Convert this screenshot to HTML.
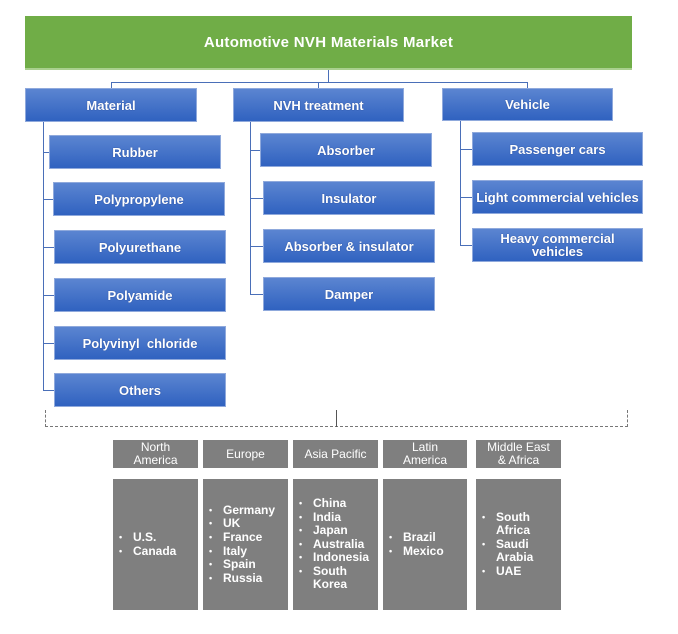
<!DOCTYPE html><html><head><style>
body{margin:0;width:678px;height:634px;background:#fff;position:relative;font-family:"Liberation Sans",sans-serif;overflow:hidden}
div{position:absolute;box-sizing:border-box}
.b{background:linear-gradient(#5b85d1,#3062c0);border:1px solid #8fa9dc;color:#fff;font-weight:bold;font-size:13px;display:flex;align-items:center;justify-content:center;text-align:center;line-height:13px;text-shadow:0 0 1px #203c80}
.l{background:#4a6fb8}
.g{background:#7f7f7f;color:#fff;font-size:12px;display:flex;align-items:center;justify-content:center;text-align:center;line-height:13px}
.c{background:#7f7f7f;color:#fff;font-size:12px;font-weight:bold;display:flex;align-items:center;line-height:13.6px;padding-left:6px}
ul{margin:0;padding:0 0 0 14px;list-style:none}
li{position:relative}
li:before{content:"•";font-size:9px;position:absolute;left:-14px;top:0}
</style></head><body>
<div style="left:25px;top:16px;width:607px;height:54px;background:#70ad47;border-bottom:2px solid #a9d08e;color:#fff;font-weight:bold;font-size:15px;display:flex;align-items:center;justify-content:center;letter-spacing:.3px">Automotive NVH Materials Market</div>
<div class="l" style="left:328px;top:70px;width:1px;height:12px"></div>
<div class="l" style="left:111px;top:82px;width:417px;height:1px"></div>
<div class="l" style="left:111px;top:82px;width:1px;height:6px"></div>
<div class="l" style="left:318px;top:82px;width:1px;height:6px"></div>
<div class="l" style="left:527px;top:82px;width:1px;height:6px"></div>
<div class="b" style="left:25px;top:88px;width:172px;height:34px">Material</div>
<div class="b" style="left:233px;top:88px;width:171px;height:34px">NVH treatment</div>
<div class="b" style="left:442px;top:88px;width:171px;height:33px">Vehicle</div>
<div class="l" style="left:43px;top:122px;width:1px;height:268px"></div>
<div class="l" style="left:43px;top:152px;width:6px;height:1px"></div>
<div class="l" style="left:43px;top:199px;width:10px;height:1px"></div>
<div class="l" style="left:43px;top:247px;width:11px;height:1px"></div>
<div class="l" style="left:43px;top:295px;width:11px;height:1px"></div>
<div class="l" style="left:43px;top:343px;width:11px;height:1px"></div>
<div class="l" style="left:43px;top:390px;width:11px;height:1px"></div>
<div class="b" style="left:49px;top:135px;width:172px;height:34px">Rubber</div>
<div class="b" style="left:53px;top:182px;width:172px;height:34px">Polypropylene</div>
<div class="b" style="left:54px;top:230px;width:172px;height:34px">Polyurethane</div>
<div class="b" style="left:54px;top:278px;width:172px;height:34px">Polyamide</div>
<div class="b" style="left:54px;top:326px;width:172px;height:34px">Polyvinyl&nbsp; chloride</div>
<div class="b" style="left:54px;top:373px;width:172px;height:34px">Others</div>
<div class="l" style="left:250px;top:122px;width:1px;height:172px"></div>
<div class="l" style="left:250px;top:150px;width:10px;height:1px"></div>
<div class="l" style="left:250px;top:198px;width:13px;height:1px"></div>
<div class="l" style="left:250px;top:246px;width:13px;height:1px"></div>
<div class="l" style="left:250px;top:294px;width:13px;height:1px"></div>
<div class="b" style="left:260px;top:133px;width:172px;height:34px">Absorber</div>
<div class="b" style="left:263px;top:181px;width:172px;height:34px">Insulator</div>
<div class="b" style="left:263px;top:229px;width:172px;height:34px">Absorber &amp; insulator</div>
<div class="b" style="left:263px;top:277px;width:172px;height:34px">Damper</div>
<div class="l" style="left:460px;top:121px;width:1px;height:125px"></div>
<div class="l" style="left:460px;top:149px;width:12px;height:1px"></div>
<div class="l" style="left:460px;top:197px;width:12px;height:1px"></div>
<div class="l" style="left:460px;top:245px;width:12px;height:1px"></div>
<div class="b" style="left:472px;top:132px;width:171px;height:34px">Passenger cars</div>
<div class="b" style="left:472px;top:180px;width:171px;height:34px">Light commercial vehicles</div>
<div class="b" style="left:472px;top:228px;width:171px;height:34px">Heavy commercial<br>vehicles</div>
<div style="left:45px;top:410px;width:583px;height:17px;border:1px dashed #777;border-top:none"></div>
<div style="left:336px;top:410px;width:1px;height:17px;background:#555"></div>
<div class="g" style="left:113px;top:440px;width:85px;height:28px">North<br>America</div>
<div class="g" style="left:203px;top:440px;width:85px;height:28px">Europe</div>
<div class="g" style="left:293px;top:440px;width:85px;height:28px">Asia Pacific</div>
<div class="g" style="left:383px;top:440px;width:84px;height:28px">Latin<br>America</div>
<div class="g" style="left:476px;top:440px;width:85px;height:28px">Middle East<br>&amp; Africa</div>
<div class="c" style="left:113px;top:479px;width:85px;height:131px"><ul><li>U.S.</li><li>Canada</li></ul></div>
<div class="c" style="left:203px;top:479px;width:85px;height:131px"><ul><li>Germany</li><li>UK</li><li>France</li><li>Italy</li><li>Spain</li><li>Russia</li></ul></div>
<div class="c" style="left:293px;top:479px;width:85px;height:131px"><ul><li>China</li><li>India</li><li>Japan</li><li>Australia</li><li>Indonesia</li><li>South Korea</li></ul></div>
<div class="c" style="left:383px;top:479px;width:84px;height:131px"><ul><li>Brazil</li><li>Mexico</li></ul></div>
<div class="c" style="left:476px;top:479px;width:85px;height:131px"><ul><li>South Africa</li><li>Saudi Arabia</li><li>UAE</li></ul></div>
</body></html>
